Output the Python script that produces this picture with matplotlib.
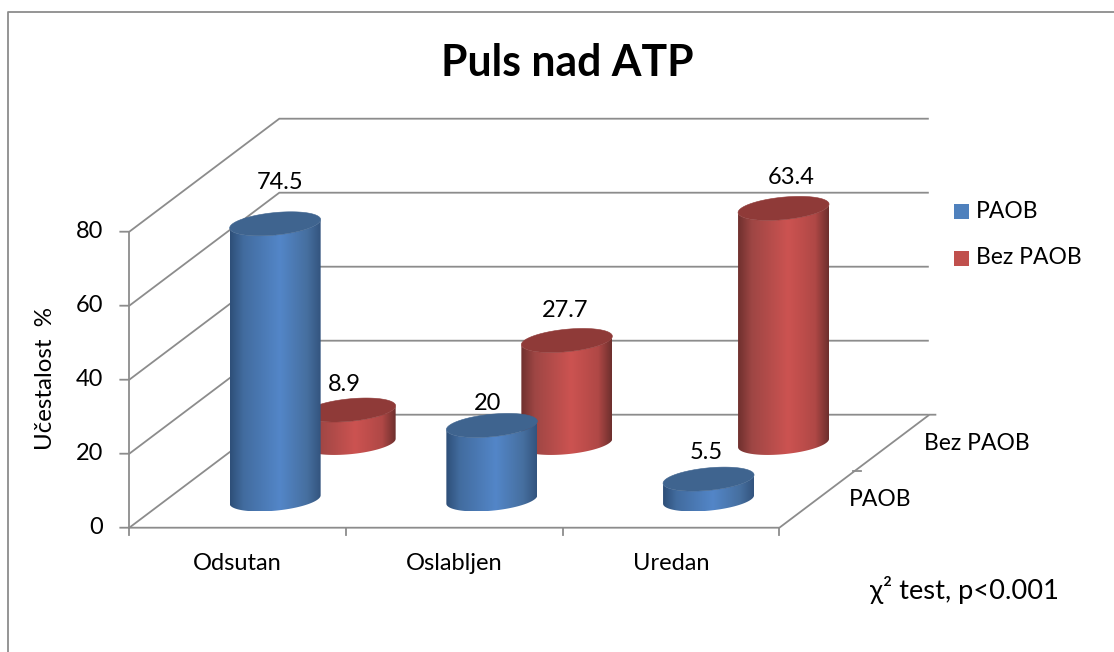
"""Puls nad ATP: 3D style cylinder chart drawn on a plain 2D axes."""

import numpy as np
import matplotlib

matplotlib.use("Agg")
import matplotlib.pyplot as plt
from matplotlib.colors import LinearSegmentedColormap
from matplotlib.patches import Polygon, Rectangle

plt.rcParams["font.family"] = ["Lato", "DejaVu Sans"]

categories = ["Odsutan", "Oslabljen", "Uredan"]
series_names = ["PAOB", "Bez PAOB"]
paob_values = [74.5, 20, 5.5]
bez_paob_values = [8.9, 27.7, 63.4]
y_ticks = [0, 20, 40, 60, 80]

TITLE = "Puls nad ATP"
Y_LABEL = "Učestalost  %"
NOTE = "χ² test, p<0.001"

GRID = "#8c8c8c"
LW = 1.3

# oblique projection, result in image pixels
X0, Y0 = 129.3, 527.7
CAT_W = 216.7
PX_PER_UNIT = 3.7
DEPTH_X, DEPTH_Y = 150.0, 113.0

# cylinder shape: half width on screen and depth radius
HALF_W = 45.5
DY = 12.0
DX = DY * DEPTH_X / DEPTH_Y
A = np.sqrt(HALF_W**2 - DX**2)


def project(cat, depth, value):
    """cat in category units, depth 0..1, value in axis units."""
    px = X0 + CAT_W * cat + DEPTH_X * depth
    py = Y0 - PX_PER_UNIT * value - DEPTH_Y * depth
    return px, py


def ellipse(cx, cy, t):
    return cx + A * np.cos(t) + DX * np.sin(t), cy - DY * np.sin(t)


def draw_cylinder(ax, cat, depth, value, cmap, top_color, z):
    cx, y_base = project(cat + 0.5, depth, 0)
    y_top = project(cat + 0.5, depth, value)[1]
    t0 = np.arctan2(DX, A)

    front = np.linspace(t0 + np.pi, t0 + 2 * np.pi, 80)
    bx, by = ellipse(cx, y_base, front)
    tx, ty = ellipse(cx, y_top, front[::-1])
    verts = np.vstack([np.column_stack([bx, by]), np.column_stack([tx, ty])])
    body = Polygon(verts, closed=True, fc="none", ec="none", zorder=z)
    ax.add_patch(body)

    grad = np.linspace(0, 1, 256).reshape(1, -1)
    im = ax.imshow(
        grad,
        cmap=cmap,
        aspect="auto",
        extent=(cx - HALF_W, cx + HALF_W, y_base + DY, y_top - DY),
        interpolation="bilinear",
        zorder=z,
    )
    im.set_clip_path(body)

    t = np.linspace(0, 2 * np.pi, 120)
    cap_x, cap_y = ellipse(cx, y_top, t)
    ax.add_patch(
        Polygon(np.column_stack([cap_x, cap_y]), closed=True, fc=top_color, ec=top_color,
                lw=0.4, zorder=z + 0.1)
    )
    return cx, y_top


blue_cmap = LinearSegmentedColormap.from_list(
    "blue",
    [(0, "#2e4f78"), (0.15, "#426c9f"), (0.55, "#5386c8"), (0.85, "#466f9f"), (1, "#33547e")],
)
red_cmap = LinearSegmentedColormap.from_list(
    "red",
    [(0, "#6f302e"), (0.15, "#9e4644"), (0.55, "#cc5351"), (0.85, "#b04846"), (1, "#6d2f2d")],
)

fig = plt.figure(figsize=(11.14, 6.52), dpi=100, facecolor="white")
ax = fig.add_axes([0, 0, 1, 1])
ax.axis("off")

# outer chart frame, only top and left are inside the crop
ax.plot([7.5, 7.5, 1114], [652, 11.5, 11.5], color=GRID, lw=LW, zorder=1)

n_cat = len(categories)
for v in y_ticks:
    fx, fy = project(0, 0, v)
    bx, by = project(0, 1, v)
    ex, ey = project(n_cat, 1, v)
    ax.plot([fx - 9, fx, bx, ex - 1.5], [fy, fy, by, ey], color=GRID, lw=LW, zorder=1,
            solid_joinstyle="miter")
    ax.text(103, fy, str(v), ha="right", va="center", fontsize=17, color="black")

# left wall front edge, floor front and right edges
fx0, fy0 = project(0, 0, 0)
fx1, fy1 = project(0, 0, y_ticks[-1])
ax.plot([fx0, fx1], [fy0, fy1], color=GRID, lw=LW, zorder=1)
rx0, ry0 = project(n_cat, 0, 0)
rx1, ry1 = project(n_cat, 1, 0)
ax.plot([fx0, rx0, rx1, rx1 + 6], [fy0, fy0, ry1, ry1], color=GRID, lw=LW, zorder=1,
        solid_joinstyle="miter")
for c in range(n_cat + 1):
    tx, ty = project(c, 0, 0)
    ax.plot([tx, tx], [ty, ty + 7], color=GRID, lw=LW, zorder=1)
mx, my = project(n_cat, 0.5, 0)
ax.plot([mx - 1, mx + 7], [my, my], color=GRID, lw=LW, zorder=1)

# red row sits behind the blue one
red_tops = [
    draw_cylinder(ax, i, 0.75, v, red_cmap, "#8f3a38", 3 + i * 0.2)
    for i, v in enumerate(bez_paob_values)
]
blue_tops = [
    draw_cylinder(ax, i, 0.25, v, blue_cmap, "#3f648f", 5 + i * 0.2)
    for i, v in enumerate(paob_values)
]

# data labels, hand placed in the original
blue_off = [(5, -41), (-4.5, -22), (-2, -27)]
red_off = [(-6, -26), (-2, -30), (8, -31)]
for tops, offs, vals in [(blue_tops, blue_off, paob_values), (red_tops, red_off, bez_paob_values)]:
    for (cx, cy), (ox, oy), v in zip(tops, offs, vals):
        ax.text(cx + ox, cy + oy, str(v), ha="center", va="center", fontsize=17, color="black",
                zorder=8)

for i, name in enumerate(categories):
    cx = project(i + 0.5, 0, 0)[0]
    ax.text(cx, 561, name, ha="center", va="center_baseline", fontsize=17, color="black")

ax.text(924, 444, series_names[1], ha="left", va="center", fontsize=16.5, color="black")
ax.text(849, 500, series_names[0], ha="left", va="center", fontsize=16.5, color="black")

# legend
for y, col, name in [(204, "#4f81bd", series_names[0]), (251, "#c0504d", series_names[1])]:
    ax.add_patch(Rectangle((954, y), 15, 15, fc=col, ec="none"))
    ax.text(976, y + 7, name, ha="left", va="center", fontsize=16.5, color="black")

ax.text(567, 63, TITLE, ha="center", va="center", fontsize=30.8, fontweight="bold", color="black")
ax.text(46, 378, Y_LABEL, ha="center", va="center", rotation=90, fontsize=17.4, color="black")
ax.text(870, 590, NOTE, ha="left", va="center", fontsize=19.6, color="black")

ax.set_xlim(0, 1114)
ax.set_ylim(652, 0)

fig.savefig("out.png", dpi=100)
